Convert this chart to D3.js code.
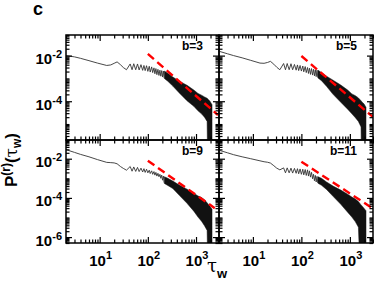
<!DOCTYPE html>
<html>
<head>
<meta charset="utf-8">
<script src="https://cdn.jsdelivr.net/npm/d3@7"></script>
<style>
  body { margin: 0; background: #fff; }
  #box { width: 374px; height: 287px; }
  svg { display: block; font-family: "Liberation Sans", Arial, sans-serif; font-weight: bold; }
</style>
</head>
<body>
<div id="box"></div>
<script>
// panel labels (order: top-left, top-right, bottom-left, bottom-right)
const bLabels = ['b=3', 'b=5', 'b=9', 'b=11'];

// thin part of the curve (shared tau sampling)
const lineTau = [2, 3, 4, 6, 9, 14, 17, 20, 23, 27, 31, 36,
  43, 47, 51, 56, 61, 66, 72, 78, 83, 88, 94, 100, 107, 112, 120, 126, 134, 140, 147, 154, 162,
  170, 178, 186, 194, 202, 210, 218];
const lineP_b3 = [1.0e-2, 8.8e-3, 7.6e-3, 6.0e-3, 4.7e-3, 3.7e-3, 3.9e-3, 4.6e-3, 5.3e-3, 4.0e-3, 3.0e-3, 2.4e-3,
  4.3e-3, 2.4e-3, 4.4e-3, 2.4e-3, 4.3e-3, 2.35e-3, 4.0e-3, 2.26e-3, 3.7e-3, 2.2e-3, 3.6e-3, 2.04e-3,
  3.4e-3, 1.9e-3, 3.2e-3, 1.8e-3, 2.9e-3, 1.6e-3, 2.7e-3, 1.46e-3, 2.5e-3,
  1.35e-3, 2.3e-3, 1.25e-3, 2.2e-3, 1.15e-3, 2.1e-3, 1.05e-3];
const lineP_b5 = [1.55e-2, 1.2e-2, 1.0e-2, 8.0e-3, 6.2e-3, 4.7e-3, 4.6e-3, 5.0e-3, 5.6e-3, 4.2e-3, 3.1e-3, 2.4e-3,
  4.5e-3, 2.4e-3, 4.5e-3, 2.4e-3, 4.4e-3, 2.4e-3, 4.1e-3, 2.3e-3, 3.9e-3, 2.2e-3, 3.7e-3, 2.1e-3,
  3.5e-3, 1.95e-3, 3.3e-3, 1.8e-3, 3.0e-3, 1.65e-3, 2.8e-3, 1.5e-3, 2.7e-3,
  1.4e-3, 2.5e-3, 1.3e-3, 2.4e-3, 1.2e-3, 2.3e-3, 1.1e-3];
const lineP_b9 = [2.9e-2, 2.1e-2, 1.66e-2, 1.25e-2, 9.0e-3, 6.5e-3, 6.3e-3, 6.1e-3, 5.5e-3, 4.0e-3, 3.2e-3, 2.6e-3,
  4.0e-3, 2.3e-3, 3.8e-3, 2.25e-3, 3.6e-3, 2.2e-3, 3.3e-3, 2.1e-3, 3.1e-3, 2.0e-3, 2.9e-3, 1.9e-3,
  2.6e-3, 1.75e-3, 2.4e-3, 1.6e-3, 2.2e-3, 1.45e-3, 2.0e-3, 1.3e-3, 1.8e-3,
  1.2e-3, 1.6e-3, 1.0e-3, 1.45e-3, 8.0e-4, 1.3e-3, 6.0e-4];
const lineP_b11 = [2.7e-2, 2.0e-2, 1.6e-2, 1.25e-2, 1.0e-2, 7.8e-3, 7.0e-3, 6.6e-3, 6.0e-3, 4.4e-3, 3.3e-3, 2.7e-3,
  3.4e-3, 1.9e-3, 3.4e-3, 1.9e-3, 3.3e-3, 1.85e-3, 3.2e-3, 1.8e-3, 3.1e-3, 1.7e-3, 3.0e-3, 1.6e-3,
  2.9e-3, 1.5e-3, 2.8e-3, 1.4e-3, 2.7e-3, 1.3e-3, 2.4e-3, 1.15e-3, 2.0e-3,
  9.5e-4, 1.6e-3, 7.5e-4, 1.4e-3, 6.5e-4, 1.25e-3, 5.8e-4];

// dense oscillating part: upper / lower envelope
const bandTau = [220, 260, 330, 450, 650, 900, 1100, 1300, 1500, 1700, 1800, 1950, 2150];
const bandHi_b3 = [2.1e-3, 1.7e-3, 1.15e-3, 7.6e-4, 5.0e-4, 3.1e-4, 2.2e-4, 1.85e-4, 1.55e-4, 1.35e-4, 1.2e-4, 1.0e-4, 7.0e-5];
const bandLo_b3 = [1.0e-3, 7.5e-4, 4.6e-4, 2.3e-4, 1.05e-4, 6.0e-5, 3.8e-5, 2.8e-5, 2.0e-5, 1.3e-5, 1e-9, 1e-9, 1e-9];
const bandHi_b5 = [2.3e-3, 1.8e-3, 1.25e-3, 8.4e-4, 5.1e-4, 3.1e-4, 2.1e-4, 1.75e-4, 1.4e-4, 1.05e-4, 9.0e-5, 7.7e-5, 5.5e-5];
const bandLo_b5 = [1.05e-3, 8.0e-4, 4.5e-4, 2.0e-4, 9.0e-5, 4.5e-5, 2.8e-5, 1.9e-5, 1.3e-5, 7.5e-6, 1e-9, 1e-9, 1e-9];
const bandHi_b9 = [1.2e-3, 1.0e-3, 7.2e-4, 4.5e-4, 2.8e-4, 1.75e-4, 1.25e-4, 1.05e-4, 8.0e-5, 5.6e-5, 4.8e-5, 3.8e-5, 2.6e-5];
const bandLo_b9 = [5.5e-4, 4.3e-4, 3.0e-4, 1.35e-4, 5.3e-5, 2.1e-5, 1.05e-5, 6.5e-6, 3.8e-6, 2.2e-6, 1e-9, 1e-9, 1e-9];
const bandHi_b11 = [1.2e-3, 1.0e-3, 6.5e-4, 4.0e-4, 2.5e-4, 1.55e-4, 1.1e-4, 8.8e-5, 6.5e-5, 4.4e-5, 3.8e-5, 3.0e-5, 2.2e-5];
const bandLo_b11 = [5.6e-4, 4.4e-4, 2.7e-4, 1.2e-4, 4.7e-5, 1.85e-5, 1.05e-5, 6.0e-6, 3.2e-6, 1e-9, 1e-9, 1e-9, 1e-9];

// red dashed power-law guides: [start, end]
const guideTau_b3 = [100, 2850], guideP_b3 = [1.18e-2, 2.5e-5];
const guideTau_b5 = [100, 2950], guideP_b5 = [9.6e-3, 2.1e-5];
const guideTau_b9 = [100, 2450], guideP_b9 = [7.9e-3, 3.0e-5];
const guideTau_b11 = [100, 2950], guideP_b11 = [7.0e-3, 2.95e-5];

// ticks
const xMajor = [10, 100, 1000];
const xLabels = ['1', '2', '3'];
const yMajorTop = [1e-2, 1e-4];
const yLabelsTop = ['-2', '-4'];
const yMajorBottom = [1e-2, 1e-4, 1e-6];
const yLabelsBottom = ['-2', '-4', '-6'];

const lines = [lineP_b3, lineP_b5, lineP_b9, lineP_b11];
const bandsHi = [bandHi_b3, bandHi_b5, bandHi_b9, bandHi_b11];
const bandsLo = [bandLo_b3, bandLo_b5, bandLo_b9, bandLo_b11];
const guidesTau = [guideTau_b3, guideTau_b5, guideTau_b9, guideTau_b11];
const guidesP = [guideP_b3, guideP_b5, guideP_b9, guideP_b11];

const width = 374, height = 287;
const colX = [[66, 219], [219, 373]];
const rowY = [[35, 140], [140, 243]];
const yDomains = [[2e-6, 8e-2], [5e-7, 9e-2]];

const svg = d3.select('#box').append('svg')
  .attr('width', width)
  .attr('height', height)
  .attr('viewBox', `0 0 ${width} ${height}`);

// minor tick values for a log domain
function minorTicks(lo, hi) {
  const out = [];
  for (let e = Math.floor(Math.log10(lo)); e <= Math.ceil(Math.log10(hi)); e++) {
    for (let m = 1; m <= 9; m++) {
      const v = m * Math.pow(10, e);
      if (v >= lo && v <= hi) out.push(v);
    }
  }
  return out;
}

bLabels.forEach((lab, i) => {
  const col = i % 2, row = Math.floor(i / 2);
  const [x0, x1] = colX[col];
  const [y0, y1] = rowY[row];

  const x = d3.scaleLog().domain([2, 3000]).range([x0, x1]);
  const y = d3.scaleLog().domain(yDomains[row]).range([y1, y0]);

  const g = svg.append('g');

  const clipId = 'clip' + i;
  svg.append('clipPath').attr('id', clipId)
    .append('rect').attr('x', x0).attr('y', y0).attr('width', x1 - x0).attr('height', y1 - y0);

  const plot = g.append('g').attr('clip-path', `url(#${clipId})`);

  // dense band
  const area = d3.area()
    .x((d, k) => x(bandTau[k]))
    .y0((d, k) => y(bandsLo[i][k]))
    .y1((d, k) => y(bandsHi[i][k]));
  plot.append('path')
    .datum(bandTau)
    .attr('d', area)
    .attr('fill', '#111')
    .attr('stroke', '#111')
    .attr('stroke-width', 0.5);

  // thin line
  const line = d3.line()
    .x((d, k) => x(lineTau[k]))
    .y(d => y(d));
  plot.append('path')
    .datum(lines[i])
    .attr('d', line)
    .attr('fill', 'none')
    .attr('stroke', '#333')
    .attr('stroke-width', 0.9);

  // red dashed guide
  plot.append('path')
    .datum(guidesP[i])
    .attr('d', d3.line().x((d, k) => x(guidesTau[i][k])).y(d => y(d)))
    .attr('fill', 'none')
    .attr('stroke', '#ff0000')
    .attr('stroke-width', 2.4)
    .attr('stroke-dasharray', '8,4.5');

  // frame
  g.append('rect')
    .attr('x', x0).attr('y', y0)
    .attr('width', x1 - x0).attr('height', y1 - y0)
    .attr('fill', 'none').attr('stroke', '#000').attr('stroke-width', 1.5);

  // ticks on all four sides, pointing inward
  const xMin = minorTicks(2, 3000).filter(v => !xMajor.includes(v));
  const yDom = yDomains[row];
  const yMaj = row === 0 ? yMajorTop : yMajorBottom;
  const yMin = minorTicks(yDom[0], yDom[1]).filter(v => !yMaj.some(m => Math.abs(m - v) / m < 1e-9));

  const sides = [
    [d3.axisTop, `translate(0,${y1})`, x, 1],
    [d3.axisBottom, `translate(0,${y0})`, x, 1],
    [d3.axisRight, `translate(${x0},0)`, y, 0],
    [d3.axisLeft, `translate(${x1},0)`, y, 0]
  ];
  sides.forEach(([ax, tr, sc, isX]) => {
    const maj = isX ? xMajor : yMaj;
    const mino = isX ? xMin : yMin;
    [[maj, 6], [mino, 3.5]].forEach(([vals, len]) => {
      const a = g.append('g')
        .attr('transform', tr)
        .call(ax(sc).tickValues(vals).tickSize(len).tickFormat(''));
      a.select('.domain').remove();
      a.selectAll('line').attr('stroke', '#000').attr('stroke-width', 1.2);
    });
  });

  // b label
  g.append('text')
    .attr('x', x1 - 16).attr('y', y0 + 15)
    .attr('text-anchor', 'end')
    .attr('font-size', 12)
    .text(lab);

  // y tick labels on the left column
  if (col === 0) {
    const labs = row === 0 ? yLabelsTop : yLabelsBottom;
    yMaj.forEach((v, k) => {
      const t = g.append('text')
        .attr('x', x0 - 4).attr('y', y(v) + 8.5)
        .attr('text-anchor', 'end')
        .attr('font-size', 15);
      t.append('tspan').text('10');
      t.append('tspan').attr('dy', -6).attr('font-size', 11).text(labs[k]);
    });
  }

  // x tick labels on the bottom row
  if (row === 1) {
    xMajor.forEach((v, k) => {
      const t = g.append('text')
        .attr('x', x(v) + 1).attr('y', 266)
        .attr('text-anchor', 'middle')
        .attr('font-size', 15);
      t.append('tspan').text('10');
      t.append('tspan').attr('dy', -7).attr('font-size', 11).text(xLabels[k]);
    });
  }
});

// panel letter
svg.append('text')
  .attr('x', 33).attr('y', 15)
  .attr('font-size', 18)
  .text('c');

// y axis title
const yt = svg.append('text')
  .attr('transform', 'translate(17,160) rotate(-90)')
  .attr('text-anchor', 'middle')
  .attr('font-size', 17);
yt.append('tspan').text('P');
yt.append('tspan').attr('dy', -7).attr('font-size', 12).text('(r)');
yt.append('tspan').attr('dy', 7).text('(');
yt.append('tspan').attr('font-weight', 'normal').attr('font-family', 'DejaVu Serif, serif').text('τ');
yt.append('tspan').attr('dy', 4).attr('font-size', 12).text('w');
yt.append('tspan').attr('dy', -4).text(')');

// x axis title
const xt = svg.append('text')
  .attr('x', 207).attr('y', 272)
  .attr('font-size', 18);
xt.append('tspan').attr('font-weight', 'normal').attr('font-family', 'DejaVu Serif, serif').text('τ');
xt.append('tspan').attr('dy', 6).attr('font-size', 13).text('w');
</script>
</body>
</html>
